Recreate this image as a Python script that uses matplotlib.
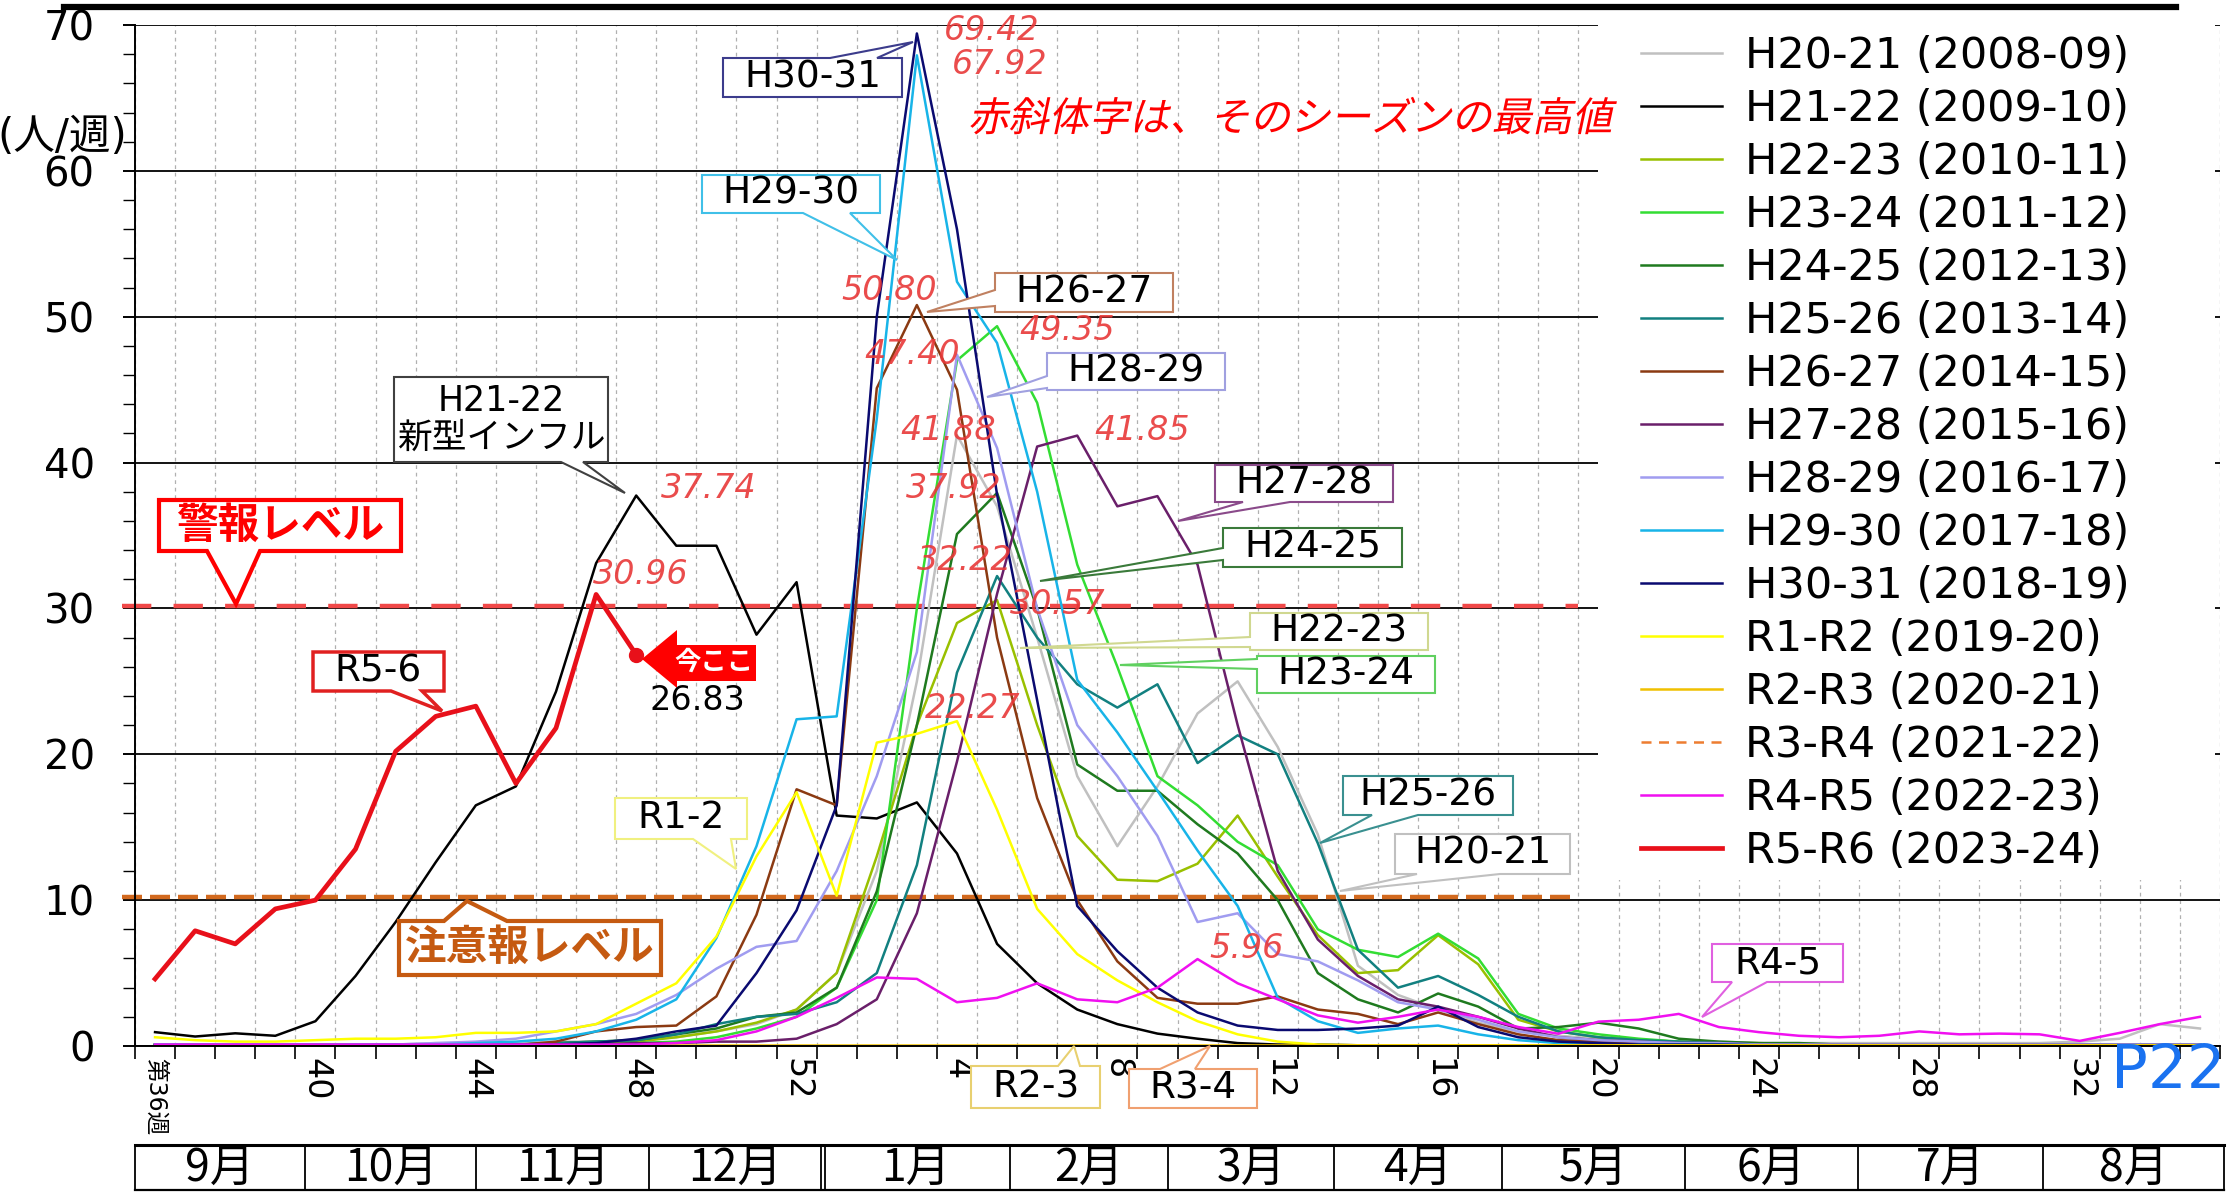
# import the pieces of matplotlib used to build the chart
import matplotlib

matplotlib.use("Agg")
import matplotlib.pyplot as plt
from matplotlib.font_manager import FontProperties
from matplotlib.lines import Line2D
from matplotlib.patches import PathPatch, Polygon, Rectangle
from matplotlib.textpath import TextPath
from matplotlib.ticker import FixedLocator, MultipleLocator
from matplotlib.transforms import Affine2D

# import numpy for the week positions
import numpy as np

# global constants
OUT_PNG_NAME: str = "out.png"
FIG_W: int = 2228
FIG_H: int = 1192
DPI: int = 100

# DejaVu for latin text, Noto CJK for the japanese glyphs
plt.rcParams["font.family"] = ["DejaVu Sans", "Noto Sans CJK JP"]

# week numbers along the x axis (week 36 .. 52, then 1 .. 35)
weeks = list(range(36, 53)) + list(range(1, 36))

# weeks that get a tick label
label_weeks = [36, 40, 44, 48, 52, 4, 8, 12, 16, 20, 24, 28, 32]

# month names under the axis
months = ["9月", "10月", "11月", "12月", "1月", "2月", "3月", "4月", "5月", "6月", "7月", "8月"]

# season names for the legend
season_names = [
    "H20-21 (2008-09)",
    "H21-22 (2009-10)",
    "H22-23 (2010-11)",
    "H23-24 (2011-12)",
    "H24-25 (2012-13)",
    "H25-26 (2013-14)",
    "H26-27 (2014-15)",
    "H27-28 (2015-16)",
    "H28-29 (2016-17)",
    "H29-30 (2017-18)",
    "H30-31 (2018-19)",
    "R1-R2 (2019-20)",
    "R2-R3 (2020-21)",
    "R3-R4 (2021-22)",
    "R4-R5 (2022-23)",
    "R5-R6 (2023-24)",
]

# line colours, same order as the names
season_colors = [
    "#C0C0C0", "#000000", "#99C000", "#33DD33", "#1F7A1F", "#128080",
    "#8B3A12", "#6A1F6A", "#A09CF0", "#18B4E8", "#0A0A70", "#FFFF00",
    "#F0C000", "#ED7D31", "#F010F0", "#E8101A",
]

# weekly patients per sentinel site, one list per season
h20_21 = [0.1, 0.1, 0.1, 0.1, 0.1, 0.1, 0.1, 0.2, 0.2, 0.2,
          0.3, 0.3, 0.4, 0.6, 1.0, 1.5, 2.5, 5.0, 12.0, 25.0,
          41.88, 37.0, 28.0, 18.5, 13.7, 17.8, 22.8, 25.0, 20.5, 14.5,
          5.5, 3.5, 2.5, 1.6, 1.0, 0.7, 0.5, 0.4, 0.3, 0.3,
          0.2, 0.2, 0.2, 0.2, 0.2, 0.2, 0.2, 0.2, 0.3, 0.5, 1.5, 1.2]
h21_22 = [0.95, 0.65, 0.87, 0.7, 1.7, 4.8, 8.5, 12.6, 16.5, 17.8,
          24.3, 33.1, 37.74, 34.3, 34.3, 28.2, 31.8, 15.8, 15.6, 16.7,
          13.2, 7.0, 4.3, 2.5, 1.5, 0.85, 0.5, 0.2, 0.1, 0.1,
          0.05, 0.05, 0.05, 0.05, 0.05, 0.05, 0.05, 0.05, 0.05, 0.05,
          0.05, 0.05, 0.05, 0.05, 0.05, 0.05, 0.05, 0.05, 0.05, 0.05, 0.05, 0.05]
h22_23 = [0.1, 0.1, 0.1, 0.1, 0.1, 0.1, 0.1, 0.1, 0.1, 0.1,
          0.1, 0.2, 0.3, 0.6, 1.0, 1.6, 2.5, 5.0, 13.0, 22.0,
          29.0, 30.57, 22.0, 14.4, 11.4, 11.3, 12.5, 15.8, 11.6, 7.6,
          5.0, 5.2, 7.6, 5.6, 1.8, 1.0, 0.6, 0.4, 0.3, 0.2,
          0.2, 0.1, 0.1, 0.1, 0.1, 0.1, 0.1, 0.1, 0.1, 0.1, 0.1, 0.1]
h23_24 = [0.1, 0.1, 0.1, 0.1, 0.1, 0.1, 0.1, 0.1, 0.1, 0.1,
          0.1, 0.1, 0.2, 0.3, 0.6, 1.2, 2.0, 4.0, 10.0, 30.0,
          47.0, 49.35, 44.1, 33.0, 26.0, 18.5, 16.5, 14.0, 12.4, 8.0,
          6.6, 6.1, 7.7, 6.0, 2.2, 1.2, 0.8, 0.5, 0.3, 0.2,
          0.1, 0.1, 0.1, 0.1, 0.1, 0.1, 0.1, 0.1, 0.1, 0.1, 0.1, 0.1]
h24_25 = [0.1, 0.1, 0.1, 0.1, 0.1, 0.1, 0.1, 0.1, 0.1, 0.1,
          0.2, 0.3, 0.4, 0.8, 1.2, 2.0, 2.3, 4.0, 10.6, 22.0,
          35.1, 37.92, 30.0, 19.3, 17.5, 17.5, 15.2, 13.2, 10.0, 5.0,
          3.2, 2.3, 3.6, 2.7, 1.2, 1.3, 1.6, 1.2, 0.5, 0.3,
          0.2, 0.2, 0.1, 0.1, 0.1, 0.1, 0.1, 0.1, 0.1, 0.1, 0.1, 0.1]
h25_26 = [0.1, 0.1, 0.1, 0.1, 0.1, 0.1, 0.1, 0.1, 0.1, 0.1,
          0.2, 0.3, 0.4, 0.8, 1.5, 2.0, 2.2, 3.0, 5.0, 12.4,
          25.6, 32.22, 28.0, 24.8, 23.2, 24.8, 19.4, 21.3, 20.0, 13.9,
          6.6, 4.0, 4.8, 3.5, 2.0, 1.0, 0.6, 0.4, 0.3, 0.2,
          0.1, 0.1, 0.1, 0.1, 0.1, 0.1, 0.1, 0.1, 0.1, 0.1, 0.1, 0.1]
h26_27 = [0.05, 0.05, 0.05, 0.05, 0.05, 0.05, 0.05, 0.05, 0.05, 0.05,
          0.3, 1.0, 1.3, 1.4, 3.4, 9.0, 17.6, 16.5, 45.1, 50.8,
          45.0, 28.0, 17.0, 10.0, 5.8, 3.3, 2.9, 2.9, 3.4, 2.5,
          2.2, 1.5, 2.3, 1.5, 0.8, 0.4, 0.3, 0.2, 0.1, 0.1,
          0.05, 0.05, 0.05, 0.05, 0.05, 0.05, 0.05, 0.05, 0.05, 0.05, 0.05, 0.05]
h27_28 = [0.1, 0.1, 0.1, 0.1, 0.1, 0.1, 0.1, 0.1, 0.1, 0.1,
          0.1, 0.1, 0.2, 0.2, 0.3, 0.3, 0.5, 1.5, 3.2, 9.1,
          19.5, 31.0, 41.1, 41.85, 37.0, 37.7, 33.0, 22.0, 12.0, 7.3,
          4.8, 3.2, 2.7, 2.0, 1.2, 0.6, 0.4, 0.3, 0.2, 0.2,
          0.1, 0.1, 0.1, 0.1, 0.1, 0.1, 0.1, 0.1, 0.1, 0.1, 0.1, 0.1]
h28_29 = [0.1, 0.1, 0.1, 0.1, 0.1, 0.1, 0.1, 0.2, 0.3, 0.5,
          1.0, 1.5, 2.2, 3.5, 5.3, 6.8, 7.2, 12.0, 18.5, 27.0,
          47.4, 41.0, 30.0, 22.0, 18.5, 14.4, 8.5, 9.1, 6.3, 5.8,
          4.5, 3.0, 2.5, 1.8, 1.0, 0.6, 0.4, 0.3, 0.2, 0.2,
          0.1, 0.1, 0.1, 0.1, 0.1, 0.1, 0.1, 0.1, 0.1, 0.1, 0.1, 0.1]
h29_30 = [0.1, 0.1, 0.1, 0.1, 0.1, 0.1, 0.1, 0.1, 0.2, 0.3,
          0.5, 1.0, 1.8, 3.2, 7.4, 13.7, 22.4, 22.6, 43.0, 67.92,
          52.4, 48.2, 38.0, 25.1, 21.5, 17.5, 13.4, 9.6, 3.3, 1.7,
          0.9, 1.2, 1.4, 0.8, 0.4, 0.2, 0.1, 0.1, 0.1, 0.1,
          0.05, 0.05, 0.05, 0.05, 0.05, 0.05, 0.05, 0.05, 0.05, 0.05, 0.05, 0.05]
h30_31 = [0.05, 0.05, 0.05, 0.05, 0.05, 0.05, 0.05, 0.05, 0.05, 0.05,
          0.1, 0.2, 0.5, 1.0, 1.4, 5.0, 9.3, 16.5, 50.0, 69.42,
          56.0, 37.8, 23.7, 9.6, 6.5, 4.0, 2.3, 1.4, 1.1, 1.1,
          1.2, 1.4, 2.7, 1.3, 0.6, 0.3, 0.2, 0.1, 0.1, 0.1,
          0.05, 0.05, 0.05, 0.05, 0.05, 0.05, 0.05, 0.05, 0.05, 0.05, 0.05, 0.05]
r1_r2 = [0.6, 0.4, 0.3, 0.3, 0.4, 0.5, 0.5, 0.6, 0.9, 0.9,
         1.0, 1.5, 2.9, 4.3, 7.5, 13.0, 17.4, 10.3, 20.8, 21.4,
         22.27, 16.2, 9.4, 6.3, 4.5, 3.0, 1.7, 0.8, 0.3, 0.1,
         0.05, 0.05, 0.05, 0.05, 0.05, 0.05, 0.05, 0.05, 0.05, 0.05,
         0.05, 0.05, 0.05, 0.05, 0.05, 0.05, 0.05, 0.05, 0.05, 0.05, 0.05, 0.05]
r2_r3 = [0.05, 0.05, 0.05, 0.05, 0.05, 0.05, 0.05, 0.05, 0.05, 0.05,
         0.05, 0.05, 0.05, 0.05, 0.05, 0.05, 0.05, 0.05, 0.05, 0.05,
         0.05, 0.05, 0.05, 0.05, 0.05, 0.05, 0.05, 0.05, 0.05, 0.05,
         0.05, 0.05, 0.05, 0.05, 0.05, 0.05, 0.05, 0.05, 0.05, 0.05,
         0.05, 0.05, 0.05, 0.05, 0.05, 0.05, 0.05, 0.05, 0.05, 0.05, 0.05, 0.05]
r3_r4 = [0.0, 0.0, 0.0, 0.0, 0.0, 0.0, 0.0, 0.0, 0.0, 0.0,
         0.0, 0.0, 0.0, 0.0, 0.0, 0.0, 0.0, 0.0, 0.0, 0.0,
         0.0, 0.0, 0.0, 0.0, 0.0, 0.0, 0.0, 0.0, 0.0, 0.0,
         0.0, 0.0, 0.0, 0.0, 0.0, 0.0, 0.0, 0.0, 0.0, 0.0,
         0.0, 0.0, 0.0, 0.0, 0.0, 0.0, 0.0, 0.0, 0.0, 0.0, 0.0, 0.0]
r4_r5 = [0.1, 0.1, 0.1, 0.1, 0.1, 0.1, 0.1, 0.1, 0.1, 0.1,
         0.1, 0.1, 0.1, 0.2, 0.4, 1.0, 2.0, 3.3, 4.7, 4.6,
         3.0, 3.3, 4.3, 3.2, 3.0, 4.0, 5.96, 4.3, 3.2, 2.1,
         1.6, 2.0, 2.5, 2.0, 1.3, 0.84, 1.67, 1.8, 2.2, 1.3,
         0.95, 0.7, 0.6, 0.7, 1.0, 0.8, 0.85, 0.8, 0.35, 0.9, 1.5, 2.0]
r5_r6 = [4.6, 7.9, 7.0, 9.4, 10.0, 13.5, 20.2, 22.6, 23.3, 18.0, 21.8, 30.96, 26.83]

season_values = [h20_21, h21_22, h22_23, h23_24, h24_25, h25_26, h26_27, h27_28,
                 h28_29, h29_30, h30_31, r1_r2, r2_r3, r3_r4, r4_r5, r5_r6]

# alert levels (警報 / 注意報)
ALERT_LEVEL: float = 30
CAUTION_LEVEL: float = 10


# function to draw an excel style callout box (box + wedge) in pixel coords
def callout(ax, px, text, box, edge, base, tip, color, lw=1.5, fs=27,
            text_color="black", weight="normal"):
    x0, y0, x1, y1 = box
    b0, b1 = base
    if edge == "top":
        pts = [(x0, y0), (b0, y0), tip, (b1, y0), (x1, y0), (x1, y1), (x0, y1)]
    elif edge == "bottom":
        pts = [(x0, y0), (x1, y0), (x1, y1), (b1, y1), tip, (b0, y1), (x0, y1)]
    else:
        pts = [(x0, y0), (x1, y0), (x1, y1), (x0, y1), (x0, b1), tip, (x0, b0)]
    poly = Polygon(pts, closed=True, transform=px, facecolor="white",
                   edgecolor=color, lw=lw, clip_on=False, zorder=7, joinstyle="miter")
    ax.add_patch(poly)
    ax.text((x0 + x1) / 2, (y0 + y1) / 2, text, transform=px, ha="center",
            va="center", fontsize=fs, color=text_color, weight=weight,
            zorder=8, linespacing=1.1)


# function to write slanted japanese text (the CJK font has no italic)
def italic_cjk(fig, text, x, y_base, size, color):
    prop = FontProperties(family="Noto Sans CJK JP")
    path = TextPath((0, 0), text, size=size, prop=prop)
    tr = Affine2D().skew_deg(12, 0).scale(DPI / 72).translate(x, FIG_H - y_base)
    fig.add_artist(PathPatch(path, transform=tr, facecolor=color,
                             edgecolor="none", zorder=10))


# our main function
def main():
    # create the figure and the axes
    fig = plt.figure(figsize=(FIG_W / DPI, FIG_H / DPI), dpi=DPI)
    ax = fig.add_axes([135 / FIG_W, 1 - 1046 / FIG_H,
                       (2220 - 135) / FIG_W, (1046 - 25) / FIG_H])

    # transform so that layout can be given in picture pixels (y downwards)
    px = Affine2D().scale(1 / FIG_W, -1 / FIG_H).translate(0, 1) + fig.transFigure

    # draw every season
    x = np.arange(len(weeks))
    for name, color, vals in zip(season_names, season_colors, season_values):
        style = (0, (4, 3)) if name.startswith("R3-R4") else "-"
        lw = 3.4 if name.startswith("R5-R6") else 1.8
        z = 4 if name.startswith("R5-R6") else 2
        ax.plot(x[:len(vals)], vals, color=color, lw=lw, linestyle=style,
                label=name, zorder=z)

    # mark the latest week of this season
    now = len(r5_r6) - 1
    ax.plot(now, r5_r6[now], "o", color="#E8101A", ms=10, zorder=9)

    # axis limits and ticks
    ax.set_xlim(-0.5, len(weeks) - 0.5)
    ax.set_ylim(0, 70)
    label_pos = [weeks.index(w) for w in label_weeks]
    label_txt = ["第36週"] + [str(w) for w in label_weeks[1:]]
    ax.set_xticks(label_pos, labels=label_txt)
    ax.xaxis.set_minor_locator(FixedLocator(np.arange(-0.5, len(weeks), 1)))
    ax.tick_params(axis="x", which="major", length=0, pad=9, labelsize=24,
                   labelrotation=-90)
    ax.tick_params(axis="x", which="minor", length=9, width=1.2)
    ax.get_xticklabels()[0].set_fontsize(17)
    ax.set_yticks(range(0, 71, 10))
    ax.yaxis.set_minor_locator(MultipleLocator(2))
    ax.tick_params(axis="y", which="major", length=9, width=1.4, pad=20,
                   labelsize=29)
    ax.tick_params(axis="y", which="minor", length=9, width=1.0)

    # grid lines
    ax.set_axisbelow(True)
    ax.grid(axis="y", which="major", color="black", lw=1.3)
    ax.grid(axis="x", which="minor", color="#B0B0B0", lw=0.9, linestyle=(0, (3, 3)))
    ax.spines["top"].set_visible(False)
    ax.spines["right"].set_visible(False)
    ax.spines["left"].set_linewidth(1.4)
    ax.spines["bottom"].set_linewidth(1.4)

    # alert level lines
    ax.plot([-0.82, 35.5], [ALERT_LEVEL + 0.2] * 2, color="#F04848", lw=3.2,
            linestyle=(0, (6.6, 5)), clip_on=False, zorder=1.8)
    ax.plot([-0.82, 35.5], [CAUTION_LEVEL + 0.2] * 2, color="#D2691E", lw=3.2,
            linestyle=(0, (4.5, 1.8)), clip_on=False, zorder=1.8)

    # white area behind the legend
    ax.add_patch(Rectangle((1598, 10), 617, 870, transform=px, facecolor="white",
                           edgecolor="none", zorder=5, clip_on=False))
    leg = ax.legend(loc="upper left", bbox_to_anchor=(1641, 35), bbox_transform=px,
                    frameon=False, fontsize=31, handlelength=1.88,
                    handletextpad=0.53, labelspacing=0.255, borderpad=0,
                    borderaxespad=0)
    leg.set_zorder(6)

    # series callouts
    callout(ax, px, "H30-31", (723, 58, 902, 97), "top", (830, 877), (913, 42), "#3C3C8C")
    callout(ax, px, "H29-30", (702, 175, 880, 213), "bottom", (803, 850), (897, 260), "#40C0E8")
    callout(ax, px, "H26-27", (995, 273, 1173, 312), "left", (290, 306), (927, 312), "#C08060")
    callout(ax, px, "H28-29", (1047, 353, 1225, 390), "left", (376, 388), (987, 397), "#A0A0E0")
    callout(ax, px, "H21-22\n新型インフル", (394, 377, 608, 462), "bottom", (561, 583),
            (625, 493), "#404040", fs=25)
    callout(ax, px, "H27-28", (1215, 465, 1393, 502), "bottom", (1243, 1290), (1178, 521), "#8A4A8A")
    callout(ax, px, "H24-25", (1223, 528, 1402, 567), "left", (548, 560), (1040, 581), "#3A7A3A")
    callout(ax, px, "H22-23", (1250, 613, 1428, 650), "left", (637, 647), (1020, 648), "#D0D890")
    callout(ax, px, "H23-24", (1257, 656, 1435, 693), "left", (659, 669), (1120, 665), "#60D060")
    callout(ax, px, "H25-26", (1343, 776, 1513, 815), "bottom", (1372, 1418), (1320, 843), "#3A9090")
    callout(ax, px, "H20-21", (1395, 834, 1570, 874), "bottom", (1417, 1500), (1340, 891), "#C0C0C0")
    callout(ax, px, "R1-2", (615, 798, 747, 839), "bottom", (693, 731), (736, 869), "#F0F080")
    callout(ax, px, "R5-6", (313, 652, 444, 691), "bottom", (391, 422), (442, 711), "#E02020", lw=2.5)
    callout(ax, px, "R4-5", (1712, 944, 1843, 982), "bottom", (1732, 1767), (1702, 1017), "#E060E0")
    callout(ax, px, "R2-3", (971, 1066, 1100, 1108), "top", (1058, 1080), (1074, 1046), "#E8D070")
    callout(ax, px, "R3-4", (1129, 1069, 1257, 1108), "top", (1160, 1195), (1210, 1046), "#F0A070")

    # alert level callouts
    callout(ax, px, "警報レベル", (159, 500, 401, 551), "bottom", (207, 260), (236, 604),
            "#FF0000", lw=3, fs=30, text_color="#FF0000", weight="bold")
    callout(ax, px, "注意報レベル", (399, 921, 661, 975), "top", (444, 507), (467, 901),
            "#C55A11", lw=3, fs=30, text_color="#C55A11", weight="bold")

    # peak values of each season in red italics
    peak_spots = {
        10: (992, 30), 9: (1000, 64), 6: (889, 291), 8: (912, 354), 3: (1067, 331),
        0: (948, 431), 4: (954, 488), 1: (709, 488), 7: (1142, 431), 5: (965, 560),
        2: (1058, 604), 15: (641, 575), 11: (973, 709), 14: (1247, 948),
    }
    for idx, (sx, sy) in peak_spots.items():
        ax.text(sx, sy, f"{max(season_values[idx]):.2f}", transform=px, ha="center",
                va="center", fontsize=24, style="italic", color="#E83838",
                alpha=0.9, zorder=9)

    # "今ここ" arrow and the latest value
    arrow = [(642, 659), (677, 630), (677, 645), (756, 645), (756, 681),
             (677, 681), (677, 688)]
    ax.add_patch(Polygon(arrow, closed=True, transform=px, facecolor="#FF0000",
                         edgecolor="none", clip_on=False, zorder=9))
    ax.text(714, 663, "今ここ", transform=px, ha="center", va="center", fontsize=19,
            color="white", weight="bold", zorder=10)
    ax.text(697, 701, f"{r5_r6[now]:.2f}", transform=px, ha="center", va="center",
            fontsize=24, color="black", weight="medium", zorder=10)

    # note in slanted red japanese text
    italic_cjk(fig, "赤斜体字は、そのシーズンの最高値", 968, 131, 29, "#FF0000")

    # unit label
    fig.text(62 / FIG_W, 1 - 137 / FIG_H, "(人/週)", ha="center", va="center",
             fontsize=30)

    # month boxes under the axis
    bounds = [135, 305, 476, 649, 821, 1010, 1168, 1334, 1502, 1685, 1858, 2043, 2224]
    top_y, bot_y = 1145, 1190
    fig.add_artist(Line2D([bounds[0], bounds[-1]], [top_y, top_y], transform=px,
                          color="black", lw=2.2))
    fig.add_artist(Line2D([bounds[0], bounds[-1]], [bot_y, bot_y], transform=px,
                          color="black", lw=1.6))
    for bx in bounds:
        fig.add_artist(Line2D([bx, bx], [top_y, bot_y], transform=px,
                              color="black", lw=1.3))
    fig.add_artist(Line2D([bounds[4] + 4, bounds[4] + 4], [top_y, bot_y],
                          transform=px, color="black", lw=1.3))
    for name, left, right in zip(months, bounds[:-1], bounds[1:]):
        fig.text((left + right) / 2 / FIG_W, 1 - 1168 / FIG_H, name, ha="center",
                 va="center", fontsize=32, family=["Noto Sans CJK JP"])

    # the cut-off heading underline at the very top
    fig.add_artist(Line2D([64, 2176], [7, 7], transform=px, color="black", lw=4.5,
                          zorder=20))

    # page number
    fig.text(2226 / FIG_W, 1 - 1071 / FIG_H, "P22", ha="right", va="center",
             fontsize=44, color="#1A72F0")

    # save the picture
    fig.savefig(OUT_PNG_NAME, dpi=DPI)


if __name__ == "__main__":
    main()
